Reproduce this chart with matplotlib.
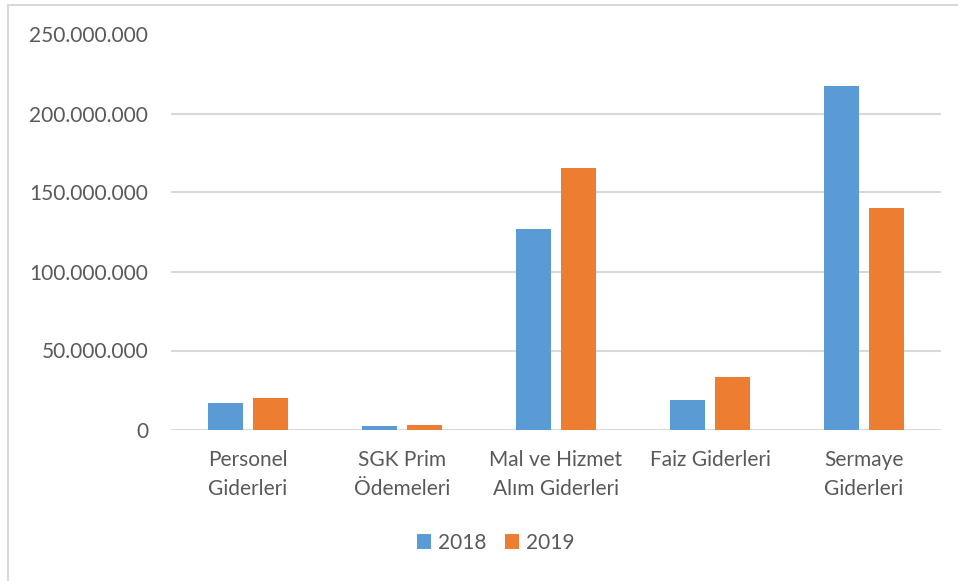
import numpy as np
import matplotlib
matplotlib.use('Agg')
import matplotlib.pyplot as plt
from matplotlib.patches import Rectangle
from matplotlib.ticker import FuncFormatter

# data (TL)
Categories = ['Personel\nGiderleri', 'SGK Prim\nÖdemeleri', 'Mal ve Hizmet\nAlım Giderleri',
              'Faiz Giderleri', 'Sermaye\nGiderleri']
Years = ['2018', '2019']
Values_2018 = [16600000, 2000000, 127100000, 18700000, 217400000]
Values_2019 = [19900000, 2800000, 165300000, 33000000, 140200000]
Y_Ticks = [0, 50000000, 100000000, 150000000, 200000000, 250000000]

Blue = '#5B9BD5'
Orange = '#ED7D31'
Grey_Text = '#595959'
Grid = '#D9D9D9'

plt.rcParams['font.family'] = ['Lato', 'DejaVu Sans']

W, H = 958, 581
fig = plt.figure(figsize=(W / 100, H / 100), dpi=100)
# chart frame, only left and top edges show in the original
fig.patches.append(Rectangle((8 / W, -0.1), 1.2, (581 - 5) / H + 0.1,
                             transform=fig.transFigure, fill=False,
                             edgecolor=Grid, linewidth=1.5))

ax = fig.add_axes([171 / W, (H - 429.5) / H, (941 - 171) / W, (429.5 - 34.5) / H])

x = np.arange(len(Categories))
Bar_Width = 0.224
Offset = 0.146
ax.bar(x - Offset, Values_2018, Bar_Width, color=Blue, label=Years[0], zorder=3)
ax.bar(x + Offset, Values_2019, Bar_Width, color=Orange, label=Years[1], zorder=3)

ax.set_xlim(-0.5, len(Categories) - 0.5)
ax.set_ylim(0, 250000000)
ax.set_yticks(Y_Ticks)
ax.yaxis.set_major_formatter(FuncFormatter(lambda v, p: '{:,.0f}'.format(v).replace(',', '.')))
ax.set_xticks(x)
ax.set_xticklabels(Categories, linespacing=1.55)

for s in ax.spines.values():
    s.set_visible(False)
ax.grid(axis='y', color=Grid, linewidth=1.5, zorder=0)
ax.set_axisbelow(True)
ax.tick_params(axis='both', length=0, labelsize=15, colors=Grey_Text)
ax.tick_params(axis='y', pad=16.5)
ax.tick_params(axis='x', pad=15)
for t in ax.get_xticklabels():
    t.set_verticalalignment('top')

ax.legend(loc='center', bbox_to_anchor=(495.5 / W, (H - 543) / H), bbox_transform=fig.transFigure,
          ncol=2, frameon=False, fontsize=15, labelcolor=Grey_Text,
          handlelength=0.7, handleheight=0.7, handletextpad=0.3, columnspacing=0.9)

fig.savefig('out.png', dpi=100, facecolor='white')
